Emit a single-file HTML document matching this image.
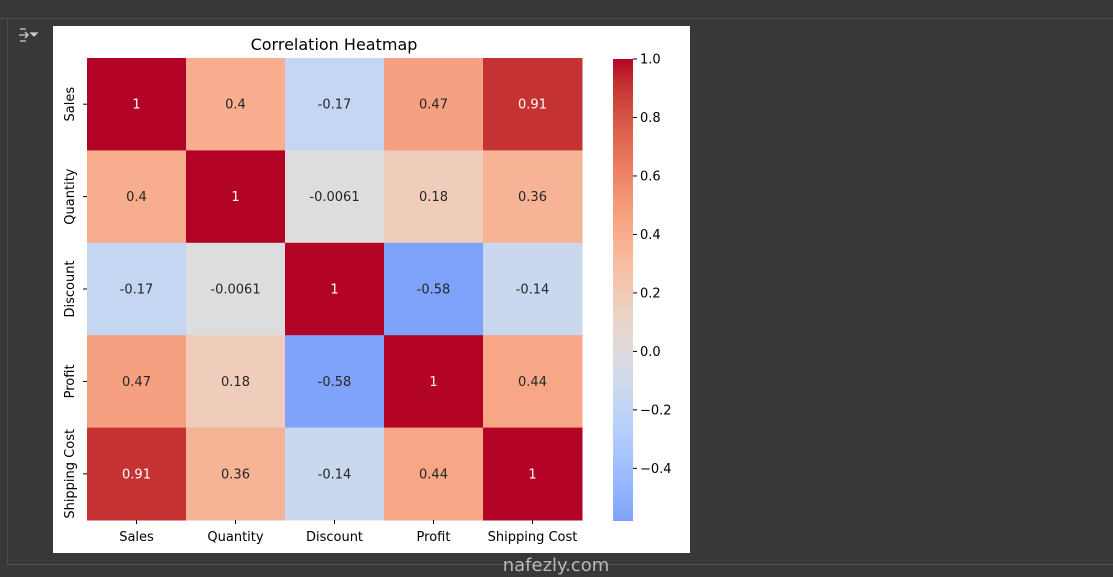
<!DOCTYPE html>
<html><head><meta charset="utf-8"><style>
html,body{margin:0;padding:0;background:#383838;width:1113px;height:577px;overflow:hidden}
svg{display:block;font-family:"DejaVu Sans","Liberation Sans",sans-serif}
</style></head><body>
<svg id="root" width="1113" height="577" viewBox="0 0 1113 577">
<rect x="0" y="0" width="1113" height="577" fill="#383838"/>
<line x1="0" y1="18.5" x2="1113" y2="18.5" stroke="#4a4a4a"/>
<line x1="7.5" y1="18" x2="7.5" y2="565" stroke="#4a4a4a"/>
<line x1="7" y1="564.5" x2="1113" y2="564.5" stroke="#555"/>
<g stroke="#ccc" fill="none" stroke-width="1.3">
<path d="M20 29h6M20 41h6M19 35h9M25 32l3 3-3 3"/><path d="M31 33l3 3 3-3z" fill="#ccc"/>
</g>
<rect x="53" y="26" width="637" height="527" fill="#fff"/>
<text x="334" y="50" font-size="16" text-anchor="middle" fill="#000">Correlation Heatmap</text>
<g id="cells"></g>
<g id="axes"></g>
<g id="cbar"></g>
<text x="556" y="571" font-size="18" text-anchor="middle" fill="#d8d8d8" opacity="0.8">nafezly.com</text>
</svg>
<script>
const labels = ["Sales","Quantity","Discount","Profit","Shipping Cost"];
const row0 = [1,0.4,-0.17,0.47,0.91];
const row1 = [0.4,1,-0.0061,0.18,0.36];
const row2 = [-0.17,-0.0061,1,-0.58,-0.14];
const row3 = [0.47,0.18,-0.58,1,0.44];
const row4 = [0.91,0.36,-0.14,0.44,1];
const matrix = [row0,row1,row2,row3,row4];
const cbarTicks = [1.0,0.8,0.6,0.4,0.2,0.0,-0.2,-0.4];

const NS="http://www.w3.org/2000/svg";
const cw=[[59,76,192],[68,90,204],[77,104,215],[87,117,225],[98,130,234],[108,142,241],[119,154,247],[130,165,251],[141,176,254],[152,185,255],[163,194,255],[174,201,253],[184,208,249],[194,213,244],[204,217,238],[213,219,230],[221,221,221],[229,216,209],[236,211,197],[241,204,184],[245,196,172],[247,187,159],[247,177,147],[247,166,134],[244,154,123],[241,141,111],[236,127,99],[229,112,89],[222,96,77],[213,80,66],[203,62,56],[192,40,47],[180,4,38]];
function color(v){let t=Math.max(0,Math.min(1,(v+1)/2))*32;let i=Math.min(31,Math.floor(t)),f=t-i;
 const c=cw[i].map((a,k)=>Math.round(a+(cw[i+1][k]-a)*f));return "rgb("+c.join(",")+")";}
function mk(tag,attrs,parent){const e=document.createElementNS(NS,tag);for(const k in attrs)e.setAttribute(k,attrs[k]);parent.appendChild(e);return e;}
const X0=87,Y0=58,W=495,H=462,n=labels.length,cwid=W/n,chei=H/n;
const xs=i=>X0+i*cwid, ys=j=>Y0+j*chei;
const cells=document.getElementById('cells'),axes=document.getElementById('axes'),cb=document.getElementById('cbar');
matrix.forEach((row,j)=>row.forEach((v,i)=>{
 const r=mk('rect',{x:xs(i),y:ys(j),width:cwid+0.5,height:chei+0.5,fill:color(v)},cells);
 
 
 const t=mk('text',{x:xs(i)+cwid/2,y:ys(j)+chei/2+4.5,'font-size':13,'text-anchor':'middle',fill:(Math.abs(v)>0.55&&v>0.5)?'#fff':'#262626'},cells);
 t.textContent=String(v);
 
 
}));
labels.forEach((l,i)=>{
 const cx=xs(i)+cwid/2;
 mk('line',{x1:cx,y1:520,x2:cx,y2:524,stroke:'#000'},axes);
 const t=mk('text',{x:cx,y:541,'font-size':13,'text-anchor':'middle',fill:'#000'},axes);t.textContent=l;
 
 
 const cy=ys(i)+chei/2;
 mk('line',{x1:83,y1:cy,x2:87,y2:cy,stroke:'#000'},axes);
 const u=mk('text',{x:74,y:cy,'font-size':13,'text-anchor':'middle',fill:'#000',transform:'rotate(-90 74 '+cy+')'},axes);u.textContent=l;
 
 
});
// colorbar
const vmin=-0.58,vmax=1,CB0=59,CB1=521,CX=613,CW=20;
const cy=v=>CB0+(vmax-v)/(vmax-vmin)*(CB1-CB0);
const defs=mk('defs',{},cb);const g=mk('linearGradient',{id:'cg',x1:0,y1:0,x2:0,y2:1},defs);
for(let k=0;k<=20;k++){const v=vmax-(vmax-vmin)*k/20;mk('stop',{offset:k/20,'stop-color':color(v)},g);}
const bar=mk('rect',{x:CX,y:CB0,width:CW,height:CB1-CB0,fill:'url(#cg)'},cb);


cbarTicks.forEach(v=>{const y=cy(v);
 mk('line',{x1:CX+CW,y1:y,x2:CX+CW+4,y2:y,stroke:'#000'},cb);
 const t=mk('text',{x:CX+CW+7,y:y+4.5,'font-size':13,fill:'#000'},cb);
 t.textContent=(v<0?'\u2212':'')+Math.abs(v).toFixed(1);
 
 
});
</script>
</body></html>
